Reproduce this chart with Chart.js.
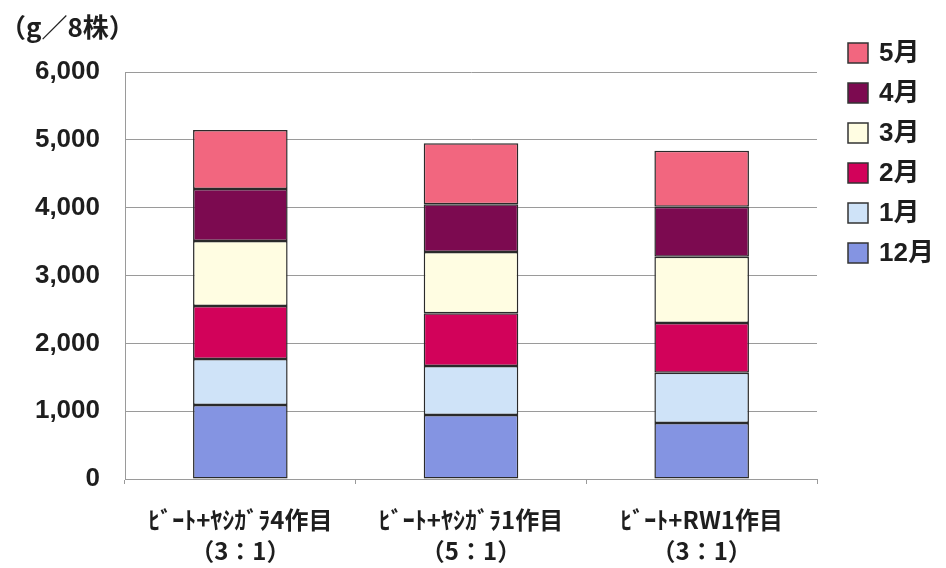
<!DOCTYPE html>
<html>
<head>
<meta charset="utf-8">
<script src="https://cdn.jsdelivr.net/npm/chart.js@4.4.1/dist/chart.umd.min.js"></script>
<style>
  html, body { margin: 0; padding: 0; background: #fff; }
  #wrap { width: 946px; height: 568px; }
</style>
</head>
<body>
<div id="wrap"><canvas id="grafico" width="946" height="568"></canvas></div>
<script>
// Categorías (eje X), dos líneas por etiqueta
const categorias = [
    ['ﾋﾞｰﾄ+ﾔｼｶﾞﾗ4作目', '（3：1）'],
    ['ﾋﾞｰﾄ+ﾔｼｶﾞﾗ1作目', '（5：1）'],
    ['ﾋﾞｰﾄ+RW1作目', '（3：1）']
];

// Valores por mes (g/8株), de abajo hacia arriba
const meses = ['12月', '1月', '2月', '3月', '4月', '5月'];
const dic = [1090, 945, 825];
const ene = [680, 720, 740];
const feb = [780, 780, 735];
const mar = [960, 900, 975];
const abr = [765, 705, 740];
const may = [870, 900, 825];
const valores = [dic, ene, feb, mar, abr, may];

const colores = ['#8494e2', '#cfe3f8', '#d2025a', '#fffde2', '#7c0a50', '#f2667f'];

const ticksY = [0, 1000, 2000, 3000, 4000, 5000, 6000];
const unidad = '（g／8株）';

const colorTexto = '#1e1e1e';
const colorLinea = '#9a9a9a';

// Plugin sencillo: unidad arriba a la izquierda y leyenda a la derecha
const extras = {
    id: 'extras',
    afterDraw(chart) {
        const ctx = chart.ctx;
        ctx.save();
        ctx.fillStyle = colorTexto;
        ctx.textBaseline = 'middle';
        ctx.textAlign = 'left';
        ctx.font = 'bold 26px "Noto Sans CJK JP", sans-serif';
        ctx.fillText(unidad, 0, 27);

        // leyenda invertida (5月 arriba)
        ctx.font = 'bold 26px "Liberation Sans", "Noto Sans CJK JP", sans-serif';
        const ds = chart.data.datasets.slice().reverse();
        ds.forEach((d, i) => {
            const y = 53 + i * 40;
            ctx.fillStyle = d.backgroundColor;
            ctx.fillRect(848, y - 10, 20, 20);
            ctx.strokeStyle = '#333';
            ctx.lineWidth = 1.5;
            ctx.strokeRect(848, y - 10, 20, 20);
            ctx.fillStyle = colorTexto;
            ctx.fillText(d.label, 879, y + 1);
        });
        ctx.restore();
    }
};

const ctx = document.getElementById('grafico').getContext('2d');
const myChart = new Chart(ctx, {
    type: 'bar',
    data: {
        labels: categorias,
        datasets: meses.map((m, i) => ({
            label: m,
            data: valores[i],
            backgroundColor: colores[i],
            borderColor: '#2a2a2a',
            borderWidth: 1.5,
            borderSkipped: false,
            categoryPercentage: 1,
            barPercentage: 0.41
        }))
    },
    options: {
        responsive: false,
        animation: false,
        layout: { padding: { top: 72, right: 129, left: 0, bottom: 0 } },
        plugins: {
            legend: { display: false },
            title: { display: false },
            tooltip: { enabled: false }
        },
        scales: {
            x: {
                stacked: true,
                afterFit(scale) { scale.height = 89; },
                grid: {
                    offset: true,
                    drawOnChartArea: false,
                    drawTicks: true,
                    tickLength: 5,
                    color: colorLinea
                },
                border: { color: colorLinea, width: 1 },
                ticks: {
                    padding: 20,
                    color: colorTexto,
                    maxRotation: 0,
                    autoSkip: false,
                    font: { family: '"Noto Sans CJK JP", sans-serif', size: 24, weight: 'bold', lineHeight: 1.3 }
                }
            },
            y: {
                stacked: true,
                min: 0,
                max: 6000,
                afterFit(scale) { scale.width = 125; },
                afterBuildTicks(scale) { scale.ticks = ticksY.map(v => ({ value: v })); },
                grid: { color: colorLinea, drawTicks: false },
                border: { color: colorLinea, width: 1 },
                ticks: {
                    padding: 25,
                    color: colorTexto,
                    font: { family: '"Liberation Sans", Arial, sans-serif', size: 26, weight: 'bold' },
                    callback: v => v.toLocaleString('en-US')
                }
            }
        }
    },
    plugins: [extras]
});
</script>
</body>
</html>
